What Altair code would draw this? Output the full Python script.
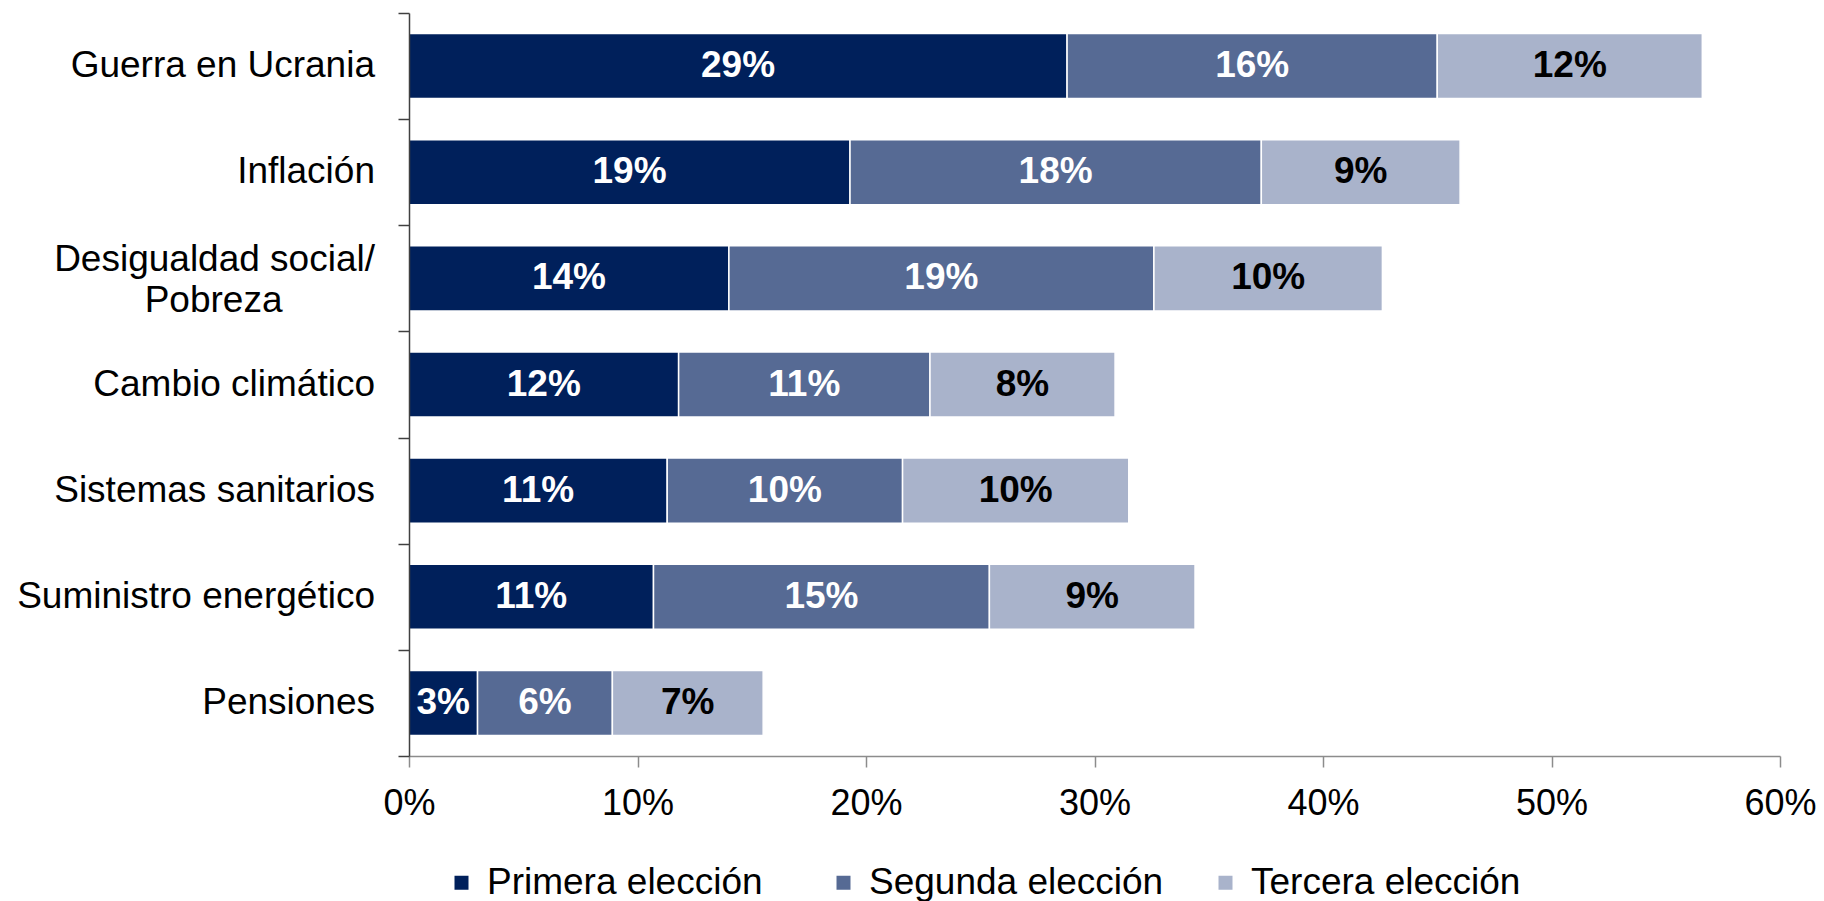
import altair as alt
import pandas as pd

categories = [
    "Guerra en Ucrania",
    "Inflación",
    "Desigualdad social/|Pobreza" + "\u00a0" * 9 + "\u200b",
    "Cambio climático",
    "Sistemas sanitarios",
    "Suministro energético",
    "Pensiones",
]
series_names = ["Primera elección", "Segunda elección", "Tercera elección"]
primera = [28.8, 19.3, 14.0, 11.8, 11.3, 10.7, 3.0]
segunda = [16.2, 18.0, 18.6, 11.0, 10.3, 14.7, 5.9]
tercera = [11.6, 8.7, 10.0, 8.1, 9.9, 9.0, 6.6]
colors = ["#00205B", "#566A94", "#A9B3CB"]
x_ticks = [0, 10, 20, 30, 40, 50, 60]

rows = []
for s_idx, (name, vals) in enumerate(zip(series_names, [primera, segunda, tercera])):
    for cat, v in zip(categories, vals):
        rows.append({"cat": cat, "series": name, "order": s_idx, "value": v})
df = pd.DataFrame(rows)
cat_df = pd.DataFrame({"cat": categories})

FONT = "Liberation Sans"

base = alt.Chart(df).transform_stack(
    stack="value",
    groupby=["cat"],
    as_=["x0", "x1"],
    sort=[alt.SortField("order", order="ascending")],
)

y_enc = alt.Y(
    "cat:N",
    sort=categories,
    scale=alt.Scale(paddingInner=0, paddingOuter=0),
    axis=alt.Axis(
        title=None,
        labels=False,
        tickSize=11,
        tickColor="#404040",
        domainColor="#404040",
        tickWidth=1.5,
        domainWidth=1.5,
        tickBand="extent",
        zindex=1,
    ),
)

bars = base.mark_bar(
    height=alt.RelativeBandSize(0.613), stroke="white", strokeWidth=1.5
).encode(
    y=y_enc,
    x=alt.X(
        "x0:Q",
        scale=alt.Scale(domain=[0, 60], nice=False),
        axis=alt.Axis(
            title=None,
            values=x_ticks,
            labelExpr="datum.value + '%'",
            labelFont=FONT,
            labelFontSize=36,
            labelColor="black",
            tickSize=11,
            tickColor="#8c8c8c",
            domainColor="#8c8c8c",
            tickWidth=1.5,
            domainWidth=1.5,
            grid=False,
            labelPadding=19,
            labelFlush=False,
            labelOverlap=False,
            zindex=1,
        ),
    ),
    x2="x1:Q",
    color=alt.Color(
        "series:N",
        scale=alt.Scale(domain=series_names, range=colors),
        legend=alt.Legend(
            title=None,
            orient="none",
            legendX=34,
            legendY=851,
            direction="horizontal",
            columns=3,
            gridAlign="all",
            symbolType="square",
            symbolSize=196,
            symbolStrokeWidth=0,
            symbolOpacity=1,
            labelFont=FONT,
            labelFontSize=37,
            labelColor="black",
            labelOffset=7,
            columnPadding=43,
            labelLimit=600,
        ),
    ),
)

labels = base.transform_calculate(
    mid="(datum.x0 + datum.x1) / 2",
    label="format(datum.value, '.0f') + '%'",
).mark_text(
    font=FONT, fontSize=37, fontWeight="bold", align="center", baseline="middle"
).encode(
    y=alt.Y("cat:N", sort=categories),
    x=alt.X("mid:Q"),
    text="label:N",
    color=alt.condition(
        alt.datum.series == "Tercera elección", alt.value("black"), alt.value("white")
    ),
)

cat_base = alt.Chart(cat_df)
cat_single = cat_base.transform_filter(
    "indexof(datum.cat, '|') < 0"
).mark_text(
    font=FONT, fontSize=37, align="right", baseline="middle", color="black"
).encode(
    y=alt.Y("cat:N", sort=categories),
    x=alt.value(-34),
    text="cat:N",
)
cat_multi = cat_base.transform_filter(
    "indexof(datum.cat, '|') >= 0"
).mark_text(
    font=FONT, fontSize=37, align="right", baseline="middle", color="black",
    lineBreak="|", lineHeight=41, dy=-18,
).encode(
    y=alt.Y("cat:N", sort=categories),
    x=alt.value(-34),
    text="cat:N",
)

chart = (
    alt.layer(bars, labels, cat_single, cat_multi)
    .properties(
        width=1371,
        height=743,
        autosize=alt.AutoSizeParams(type="none"),
        padding={"left": 401, "top": 5, "right": 36, "bottom": 170},
    )
    .configure_view(stroke=None)
)

chart.save("out.html", embed_options={"renderer": "svg", "actions": False})
